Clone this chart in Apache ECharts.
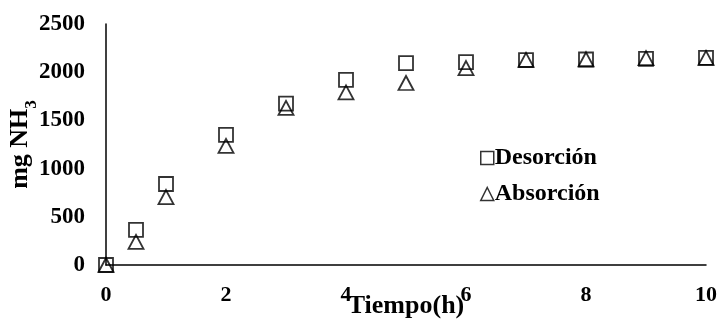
<!DOCTYPE html>
<html>
<head>
<meta charset="utf-8">
<script src="https://cdn.jsdelivr.net/npm/echarts@6/dist/echarts.min.js"></script>
<style>
  html, body { margin: 0; padding: 0; background: #fff; }
  #chart { width: 727px; height: 333px; }
</style>
</head>
<body>
<div id="chart"></div>
<script>
// Time (h) and ammonia amount (mg NH3) for desorption and absorption runs
const tiempo = [0, 0.5, 1, 2, 3, 4, 5, 6, 7, 8, 9, 10];
const desorcion = [0, 365, 840, 1350, 1675, 1920, 2095, 2105, 2125, 2132, 2138, 2148];
const absorcion = [0, 240, 705, 1235, 1630, 1790, 1888, 2043, 2128, 2134, 2145, 2148];
const xTicks = [0, 2, 4, 6, 8, 10];
const yTicks = [0, 500, 1000, 1500, 2000, 2500];

const FONT = 'Liberation Serif';
const pairs = (ys) => tiempo.map((t, i) => [t, ys[i]]);

const chart = echarts.init(document.getElementById('chart'), null, { renderer: 'canvas' });

chart.setOption({
  backgroundColor: '#fff',
  animation: false,
  grid: { left: 106, right: 21, top: 24, bottom: 68, containLabel: false, outerBoundsMode: 'none' },
  legend: {
    orient: 'vertical',
    left: 475,
    top: 141,
    itemWidth: 13,
    itemHeight: 13,
    itemGap: 12,
    textStyle: { fontFamily: FONT, fontWeight: 'bold', fontSize: 24, color: '#000', padding: [0, 0, 0, -4] },
    data: [
      { name: 'Desorción', icon: 'rect', itemStyle: { color: '#fff', borderColor: '#000', borderWidth: 1.5 } },
      { name: 'Absorción', icon: 'triangle', itemStyle: { color: '#fff', borderColor: '#000', borderWidth: 1.5 } }
    ]
  },
  xAxis: {
    type: 'value',
    min: xTicks[0],
    max: xTicks[xTicks.length - 1],
    interval: 2,
    name: 'Tiempo(h)',
    nameLocation: 'middle',
    nameGap: 28,
    nameMoveOverlap: false,
    nameTextStyle: { fontFamily: FONT, fontWeight: 'bold', fontSize: 26, color: '#000' },
    axisLine: { show: true, lineStyle: { color: '#000', width: 1.5 } },
    axisTick: { show: false },
    splitLine: { show: false },
    axisLabel: { fontFamily: FONT, fontWeight: 'bold', fontSize: 22, color: '#000', margin: 19, formatter: (v) => String(v) }
  },
  yAxis: {
    type: 'value',
    min: yTicks[0],
    max: yTicks[yTicks.length - 1],
    interval: 500,
    name: '{a|mg NH}{b|3}',
    nameLocation: 'middle',
    nameRotate: 90,
    nameGap: 73,
    nameMoveOverlap: false,
    nameTextStyle: {
      rich: {
        a: { fontFamily: FONT, fontWeight: 'bold', fontSize: 26, color: '#000', lineHeight: 27, verticalAlign: 'bottom' },
        b: { fontFamily: FONT, fontWeight: 'bold', fontSize: 17, color: '#000', lineHeight: 27, verticalAlign: 'bottom', padding: [0, 0, -7, 0] }
      }
    },
    axisLine: { show: true, lineStyle: { color: '#000', width: 1.5 } },
    axisTick: { show: false },
    splitLine: { show: false },
    axisLabel: { fontFamily: FONT, fontWeight: 'bold', fontSize: 23, color: '#000', margin: 21, formatter: (v) => String(v) }
  },
  series: [
    {
      name: 'Desorción',
      type: 'scatter',
      symbol: 'rect',
      symbolSize: 14,
      itemStyle: { color: 'rgba(255,255,255,0)', borderColor: '#000', borderWidth: 1.8 },
      data: pairs(desorcion),
      z: 2
    },
    {
      name: 'Absorción',
      type: 'scatter',
      symbol: 'triangle',
      symbolSize: [15, 14],
      itemStyle: { color: 'rgba(255,255,255,0)', borderColor: '#000', borderWidth: 1.8 },
      data: pairs(absorcion),
      z: 3
    }
  ]
});
</script>
</body>
</html>
